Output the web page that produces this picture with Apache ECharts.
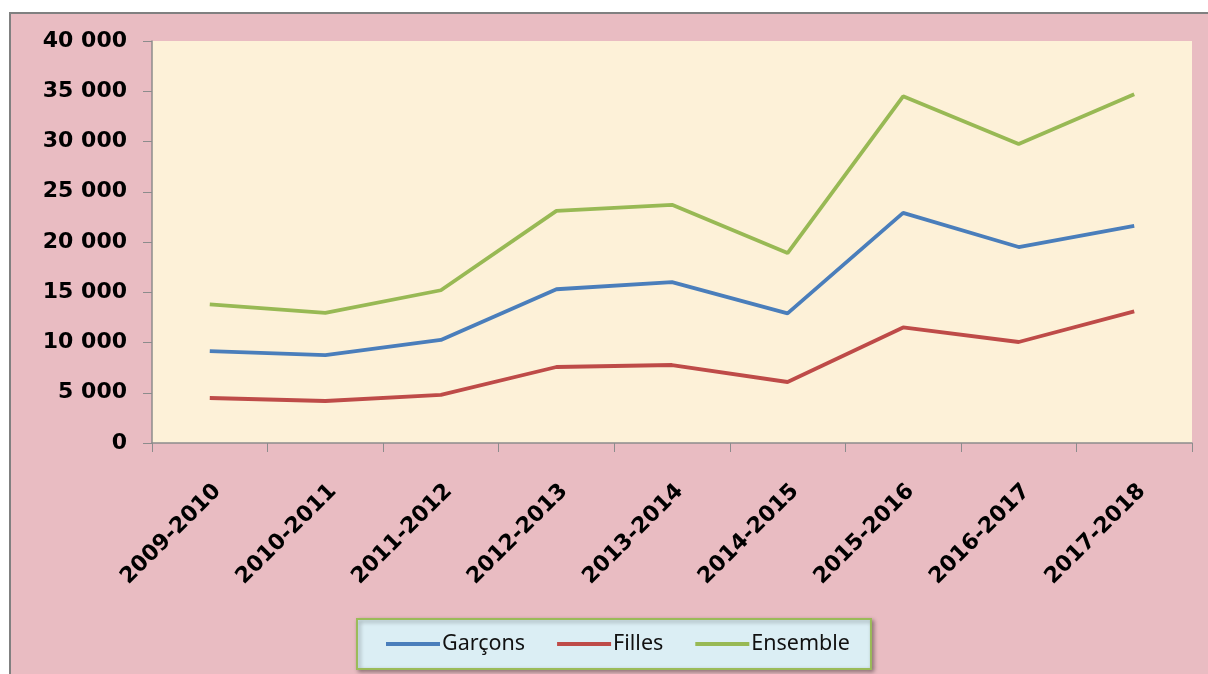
<!DOCTYPE html>
<html>
<head>
<meta charset="utf-8">
<script src="https://cdn.jsdelivr.net/npm/echarts@6/dist/echarts.min.js"></script>
<style>
html,body{margin:0;padding:0;background:#fff;}
#chart{width:1208px;height:674px;}
</style>
</head>
<body>
<div id="chart"></div>
<script>
var categories = ['2009-2010','2010-2011','2011-2012','2012-2013','2013-2014','2014-2015','2015-2016','2016-2017','2017-2018'];
var garcons = [9150, 8750, 10250, 15300, 16000, 12900, 22900, 19500, 21600];
var filles = [4480, 4180, 4780, 7560, 7760, 6070, 11500, 10050, 13100];
var ensemble = [13800, 12950, 15200, 23100, 23700, 18900, 34500, 29750, 34700];
var yTicks = [0, 5000, 10000, 15000, 20000, 25000, 30000, 35000, 40000];

var chart = echarts.init(document.getElementById('chart'));
var colorMap = {
	'Garçons':'#4a7ebb',
	'Filles':'#be4b48',
	'Ensemble':'#98b954'
};
var makeSeries = function (name, data) {
	return {
		name:name,
		type:'line',
		symbol:'none',
		smooth:false,
		lineStyle:{width:3.8, color:colorMap[name]},
		itemStyle:{color:colorMap[name]},
		data:data
	};
};
var labelFont = {
	fontFamily:'DejaVu Sans',
	fontWeight:'bold',
	fontSize:22,
	color:'#000'
};
var option = {
	backgroundColor:'#ffffff',
	animation:false,
	graphic:[{
		type:'rect',
		z:-10,
		shape:{x:10, y:13, width:1210, height:680},
		style:{fill:'#e9bcc2', stroke:'#808080', lineWidth:2}
	}],
	grid:{
		left:152,
		top:41,
		width:1040,
		height:402,
		show:true,
		backgroundColor:'#fdf1d8',
		borderWidth:0
	},
	legend:{
		data:['Garçons','Filles','Ensemble'],
		left:357,
		top:619,
		padding:[14, 21, 14, 29],
		itemGap:32,
		itemWidth:54,
		itemHeight:4,
		icon:'rect',
		backgroundColor:'#dbeef4',
		borderColor:'#9bbb59',
		borderWidth:2,
		shadowColor:'rgba(0,0,0,0.35)',
		shadowBlur:4,
		shadowOffsetX:2,
		shadowOffsetY:2,
		textStyle:{fontFamily:'Noto Sans', fontSize:21.5, color:'#111', padding:[0,0,0,-3]}
	},
	xAxis:{
		type:'category',
		boundaryGap:true,
		data:categories,
		axisLine:{lineStyle:{color:'#8c8c8c', width:1.5}},
		axisTick:{show:true, length:9, lineStyle:{color:'#8c8c8c'}},
		axisLabel:Object.assign({rotate:45, margin:37, interval:0, verticalAlign:'top'}, labelFont)
	},
	yAxis:{
		type:'value',
		min:0,
		max:40000,
		interval:5000,
		splitLine:{show:false},
		axisLine:{show:true, lineStyle:{color:'#8c8c8c', width:1.5}},
		axisTick:{show:true, length:9, lineStyle:{color:'#8c8c8c'}},
		axisLabel:Object.assign({
			margin:25,
			formatter:function (v) {
				return yTicks.indexOf(v) >= 0 ? String(v).replace(/\B(?=(\d{3})+(?!\d))/g, ' ') : '';
			}
		}, labelFont)
	},
	series:[
		makeSeries('Garçons', garcons),
		makeSeries('Filles', filles),
		makeSeries('Ensemble', ensemble)
	]
};
chart.setOption(option);
</script>
</body>
</html>
